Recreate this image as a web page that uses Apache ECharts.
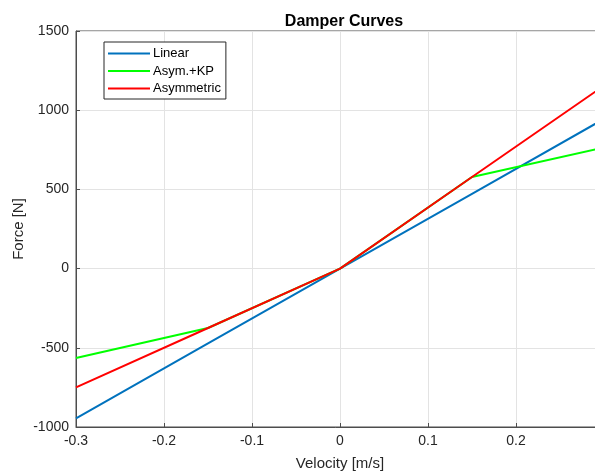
<!DOCTYPE html>
<html>
<head>
<meta charset="utf-8">
<script src="https://cdn.jsdelivr.net/npm/echarts@6/dist/echarts.min.js"></script>
<style>
  html, body { margin: 0; padding: 0; background: #fff; overflow: hidden; }
  #chart { width: 595px; height: 474px; }
</style>
</head>
<body>
<div id="chart"></div>
<script>
// Damper force vs. velocity for three damper characteristics
const velocity   = [-0.3, -0.15, 0, 0.15, 0.3];
const linear     = [-945, -472.5, 0, 472.5, 945];
const asymKP     = [-565, -375, 0, 578, 765];
const asymmetric = [-750, -375, 0, 578, 1155];

const xTicks = [-0.3, -0.2, -0.1, 0, 0.1, 0.2, 0.3];
const yTicks = [-1000, -500, 0, 500, 1000, 1500];

const font = 'Liberation Sans, Arial, Helvetica, sans-serif';
const axisColor = '#4d4d4d';

function pairs(xs, ys) { return xs.map((x, i) => [x, ys[i]]); }

const chart = echarts.init(document.getElementById('chart'));
chart.setOption({
  animation: false,
  backgroundColor: '#fff',
  title: {
    text: 'Damper Curves',
    left: 339, top: 9, textAlign: 'center',
    textStyle: { fontFamily: font, fontSize: 16, fontWeight: 'bold', color: '#000' }
  },
  // plot box runs a little past the right edge of the canvas
  grid: {
    left: 76, width: 528, top: 31, height: 396,
    containLabel: false, outerBoundsMode: 'none',
    show: true, borderColor: axisColor, borderWidth: 1
  },
  legend: {
    orient: 'vertical',
    left: 104, top: 42,
    padding: [5, 5, 4, 4],
    itemWidth: 42, itemHeight: 2, itemGap: 4.5,
    icon: 'rect',
    backgroundColor: '#fff',
    borderColor: '#262626', borderWidth: 1,
    textStyle: { fontFamily: font, fontSize: 13, color: '#000', padding: [0, 0, 0, -2] },
    data: ['Linear', 'Asym.+KP', 'Asymmetric']
  },
  xAxis: {
    type: 'value', min: xTicks[0], max: xTicks[xTicks.length - 1], interval: 0.1,
    name: 'Velocity [m/s]', nameLocation: 'middle', nameGap: 29, nameMoveOverlap: false,
    nameTextStyle: { fontFamily: font, fontSize: 15, color: '#262626' },
    axisLine: { show: true, onZero: false, lineStyle: { color: axisColor, width: 1 } },
    axisTick: { show: true, inside: true, length: 4, lineStyle: { color: axisColor } },
    axisLabel: {
      fontFamily: font, fontSize: 14, color: '#262626', margin: 7, showMaxLabel: false,
      formatter: v => { const r = Math.round(v * 10) / 10; return r === 0 ? '0' : String(r); }
    },
    splitLine: { show: true, lineStyle: { color: '#e3e3e3', width: 1 } }
  },
  yAxis: {
    type: 'value', min: yTicks[0], max: yTicks[yTicks.length - 1], interval: 500,
    name: 'Force [N]', nameLocation: 'middle', nameGap: 50, nameMoveOverlap: false,
    nameTextStyle: { fontFamily: font, fontSize: 15, color: '#262626' },
    axisLine: { show: true, onZero: false, lineStyle: { color: axisColor, width: 1 } },
    axisTick: { show: true, inside: true, length: 4, lineStyle: { color: axisColor } },
    axisLabel: { fontFamily: font, fontSize: 14, color: '#262626', margin: 7, formatter: v => String(v) },
    splitLine: { show: true, lineStyle: { color: '#e3e3e3', width: 1 } }
  },
  series: [
    {
      name: 'Linear', type: 'line', data: pairs(velocity, linear),
      symbol: 'none', color: '#0072BD', lineStyle: { width: 2 }, z: 2
    },
    {
      name: 'Asym.+KP', type: 'line', data: pairs(velocity, asymKP),
      symbol: 'none', color: '#00FF00', lineStyle: { width: 2 }, z: 3
    },
    {
      name: 'Asymmetric', type: 'line', data: pairs(velocity, asymmetric),
      symbol: 'none', color: '#FF0000', lineStyle: { width: 2 }, z: 4
    }
  ]
});
</script>
</body>
</html>
